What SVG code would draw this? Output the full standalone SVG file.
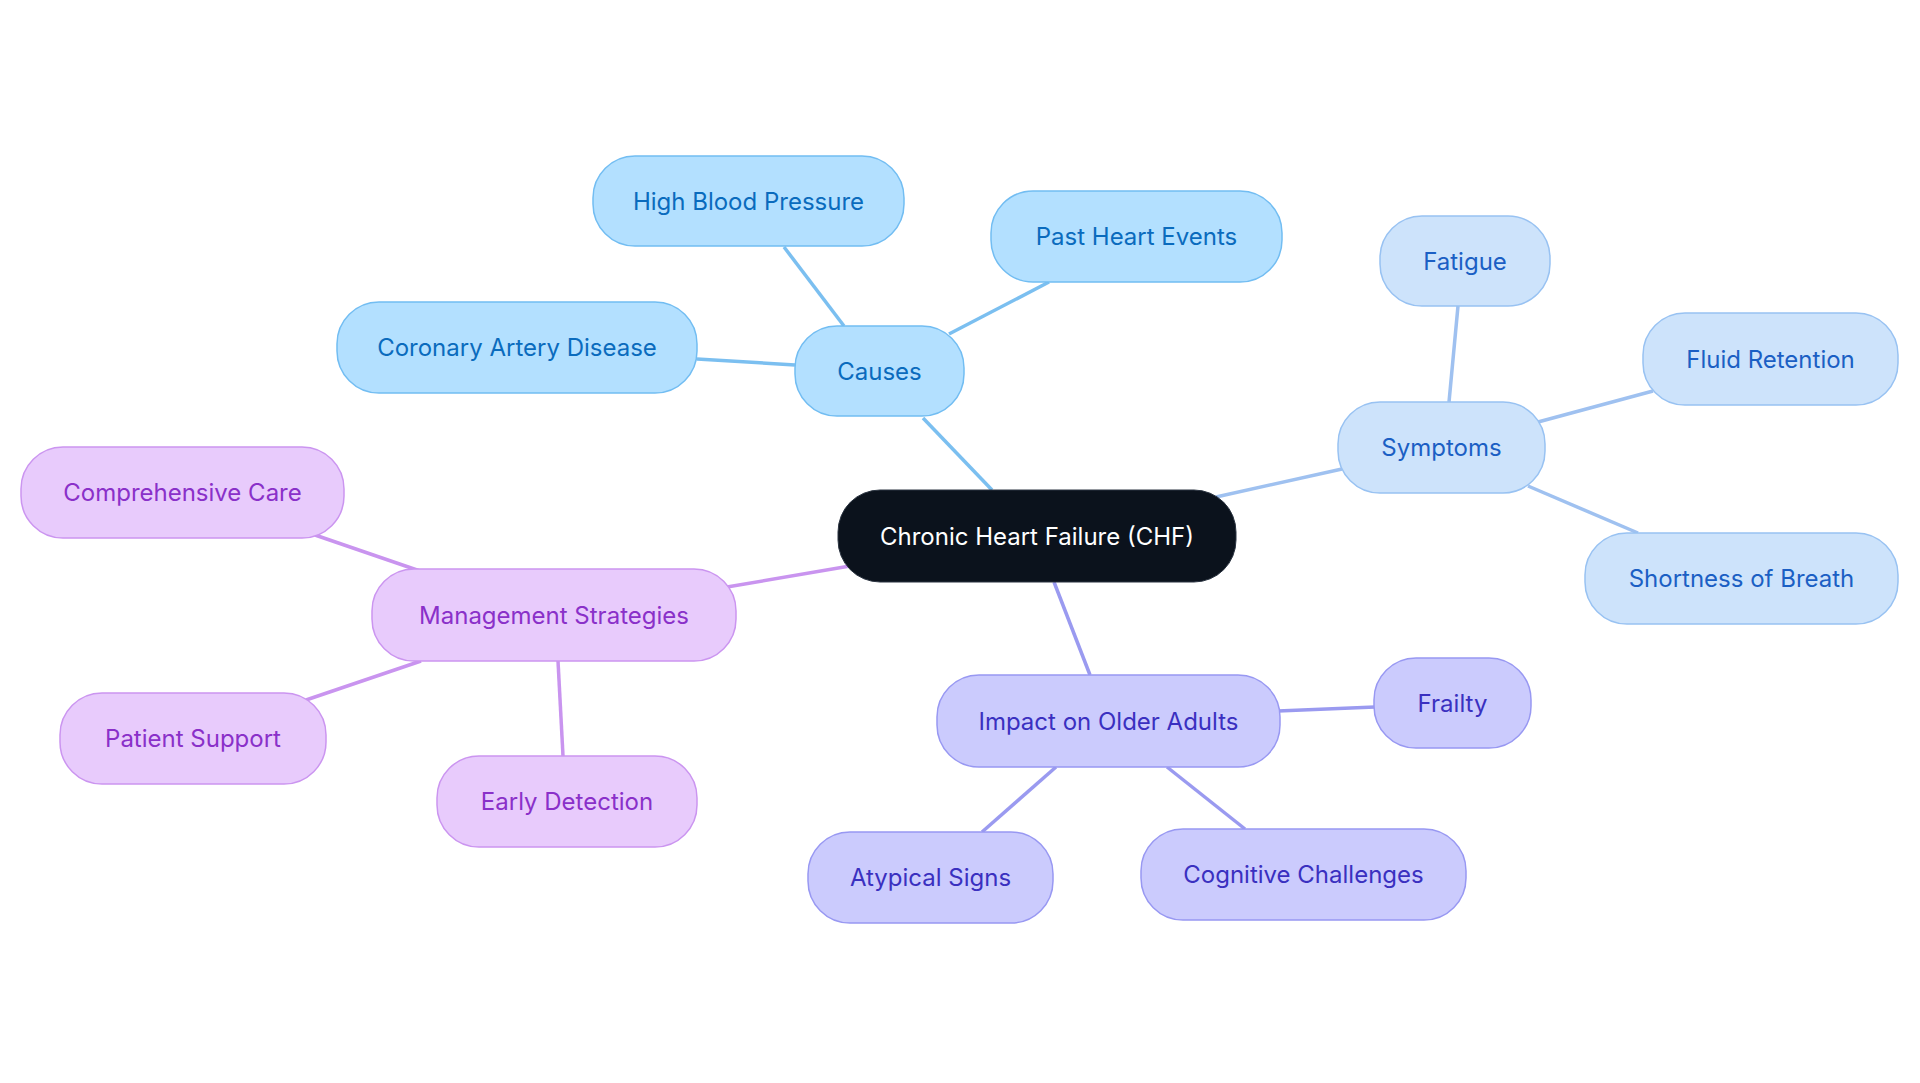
<svg xmlns="http://www.w3.org/2000/svg" width="1920" height="1083" viewBox="0 0 1920 1083">
<style>
text{font-family:Inter,"Open Sans",sans-serif;font-size:24px;text-anchor:middle;dominant-baseline:central}
.c rect{fill:#b3e0ff;stroke:#72bdf2;stroke-width:1.5}.c text{fill:#0a6bbd}
.s rect{fill:#cde3fb;stroke:#98c2f2;stroke-width:1.5}.s text{fill:#1b5fc4}
.m rect{fill:#e8cbfc;stroke:#cb95f0;stroke-width:1.5}.m text{fill:#8a30c9}
.i rect{fill:#cbcbfd;stroke:#9898f2;stroke-width:1.5}.i text{fill:#3a30c0}
#edges line{stroke-width:3.5;fill:none}
.ec{stroke:#7bbff0}.es{stroke:#9fc1f0}.em{stroke:#c994ef}.ei{stroke:#9a9af0}
</style>
<rect width="1920" height="1083" fill="#fff"/>
<g id="edges">
<line class="ec" x1="992" y1="490" x2="923" y2="418"/>
<line class="ec" x1="844" y1="326" x2="784" y2="247"/>
<line class="ec" x1="949" y1="334" x2="1049" y2="282"/>
<line class="ec" x1="795" y1="365" x2="697" y2="359"/>
<line class="es" x1="1216" y1="497" x2="1342" y2="469"/>
<line class="es" x1="1449" y1="402" x2="1458" y2="306"/>
<line class="es" x1="1538" y1="422" x2="1653" y2="391"/>
<line class="es" x1="1528" y1="486" x2="1638" y2="533"/>
<line class="em" x1="850" y1="566" x2="727" y2="587"/>
<line class="em" x1="420" y1="571" x2="315" y2="535"/>
<line class="em" x1="421" y1="661" x2="306" y2="700"/>
<line class="em" x1="558" y1="661" x2="563" y2="756"/>
<line class="ei" x1="1054" y1="582" x2="1090" y2="675"/>
<line class="ei" x1="1278" y1="711" x2="1375" y2="707"/>
<line class="ei" x1="1056" y1="767" x2="982" y2="832"/>
<line class="ei" x1="1167" y1="767" x2="1245" y2="829"/>
</g>
<g id="center"><rect x="838" y="490" width="398" height="92" rx="42" fill="#0b121c" stroke="#2a3340"/><text x="1037" y="536" fill="#fff">Chronic Heart Failure (CHF)</text></g>
<g id="causes" class="c"><rect x="795" y="326" width="169" height="90" rx="42"/><text x="879.5" y="371">Causes</text></g>
<g id="hbp" class="c"><rect x="593" y="156" width="311" height="90" rx="42"/><text x="748.5" y="201">High Blood Pressure</text></g>
<g id="phe" class="c"><rect x="991" y="191" width="291" height="91" rx="42"/><text x="1136.5" y="236.5">Past Heart Events</text></g>
<g id="cad" class="c"><rect x="337" y="302" width="360" height="91" rx="42"/><text x="517" y="347.5">Coronary Artery Disease</text></g>
<g id="symptoms" class="s"><rect x="1338" y="402" width="207" height="91" rx="42"/><text x="1441.5" y="447.5">Symptoms</text></g>
<g id="fatigue" class="s"><rect x="1380" y="216" width="170" height="90" rx="42"/><text x="1465" y="261">Fatigue</text></g>
<g id="fluid" class="s"><rect x="1643" y="313" width="255" height="92" rx="42"/><text x="1770.5" y="359">Fluid Retention</text></g>
<g id="sob" class="s"><rect x="1585" y="533" width="313" height="91" rx="42"/><text x="1741.5" y="578.5">Shortness of Breath</text></g>
<g id="mgmt" class="m"><rect x="372" y="569" width="364" height="92" rx="42"/><text x="554" y="615">Management Strategies</text></g>
<g id="comp" class="m"><rect x="21" y="447" width="323" height="91" rx="42"/><text x="182.5" y="492.5">Comprehensive Care</text></g>
<g id="patient" class="m"><rect x="60" y="693" width="266" height="91" rx="42"/><text x="193" y="738.5">Patient Support</text></g>
<g id="early" class="m"><rect x="437" y="756" width="260" height="91" rx="42"/><text x="567" y="801.5">Early Detection</text></g>
<g id="impact" class="i"><rect x="937" y="675" width="343" height="92" rx="42"/><text x="1108.5" y="721">Impact on Older Adults</text></g>
<g id="frailty" class="i"><rect x="1374" y="658" width="157" height="90" rx="42"/><text x="1452.5" y="703">Frailty</text></g>
<g id="atypical" class="i"><rect x="808" y="832" width="245" height="91" rx="42"/><text x="930.5" y="877.5">Atypical Signs</text></g>
<g id="cog" class="i"><rect x="1141" y="829" width="325" height="91" rx="42"/><text x="1303.5" y="874.5">Cognitive Challenges</text></g>
</svg>
